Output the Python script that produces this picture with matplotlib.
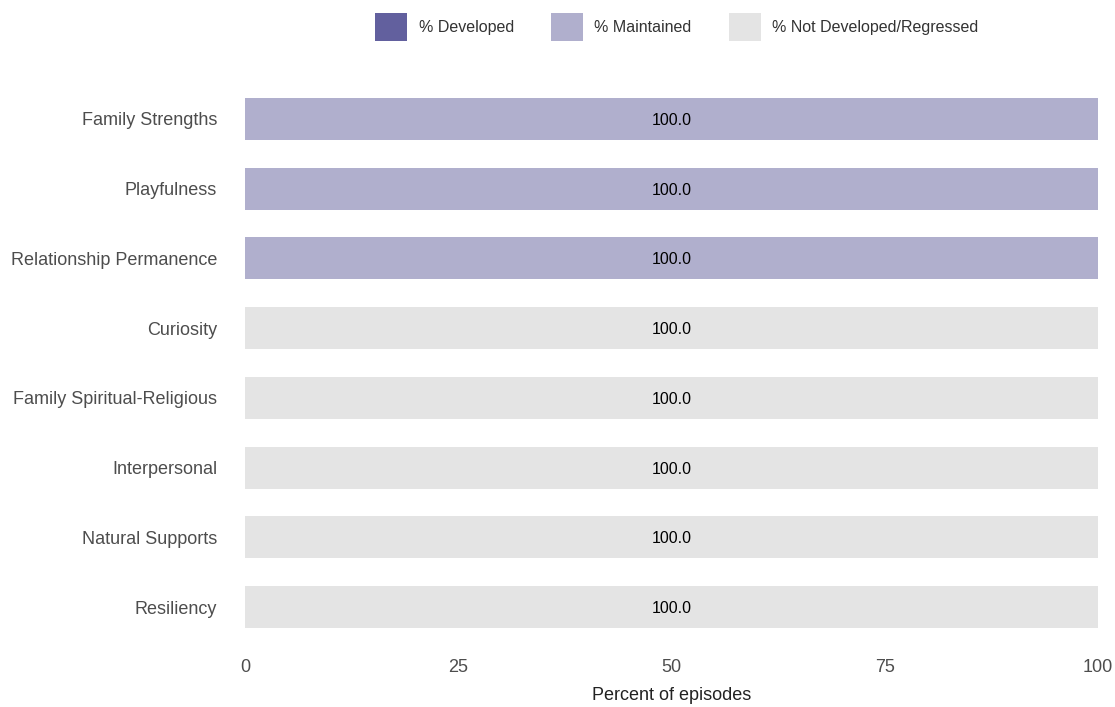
import matplotlib
matplotlib.use("Agg")
import matplotlib.pyplot as plt
import numpy as np
from matplotlib.patches import Patch

categories = [
    "Family Strengths",
    "Playfulness",
    "Relationship Permanence",
    "Curiosity",
    "Family Spiritual-Religious",
    "Interpersonal",
    "Natural Supports",
    "Resiliency",
]
pct_developed = [0, 0, 0, 0, 0, 0, 0, 0]
pct_maintained = [100, 100, 100, 0, 0, 0, 0, 0]
pct_not_developed = [0, 0, 0, 100, 100, 100, 100, 100]

series_names = ["% Developed", "% Maintained", "% Not Developed/Regressed"]
series_colors = ["#62609e", "#b0afcd", "#e4e4e4"]

plt.rcParams["font.family"] = ["Liberation Sans", "DejaVu Sans"]

fig = plt.figure(figsize=(11.15, 7.07), dpi=100)
ax = fig.add_axes([245 / 1115, 1 - 649 / 707, (1098 - 245) / 1115, (649 - 77) / 707])

y = np.arange(len(categories))[::-1]
left = np.zeros(len(categories))
for vals, name, color in zip([pct_developed, pct_maintained, pct_not_developed], series_names, series_colors):
    vals = np.array(vals, dtype=float)
    ax.barh(y, vals, left=left, height=0.6, color=color, edgecolor="none")
    for yi, l, v in zip(y, left, vals):
        if v > 0:
            ax.text(l + v / 2, yi, f"{v:.1f}", ha="center", va="center_baseline",
                    fontsize=11.5, color="black")
    left += vals

ax.set_xlim(0, 100)
ax.set_ylim(-0.6, len(categories) - 1 + 0.6)
ax.set_yticks(y)
ax.set_yticklabels(categories, fontsize=13, color="#4d4d4d")
ax.set_xticks([0, 25, 50, 75, 100])
ax.set_xticklabels(["0", "25", "50", "75", "100"], fontsize=13, color="#4d4d4d")
ax.tick_params(length=0)
ax.tick_params(axis="x", pad=7)
ax.tick_params(axis="y", pad=20)
ax.set_xlabel("Percent of episodes", fontsize=13, color="#222222", labelpad=8)
for s in ax.spines.values():
    s.set_visible(False)

handles = [Patch(facecolor=c, edgecolor="none") for c in series_colors]
fig.legend(handles, series_names, loc="center", bbox_to_anchor=(677 / 1115, 1 - 27 / 707),
           ncol=3, frameon=False, fontsize=11.5, handlelength=2.0, handleheight=2.3,
           columnspacing=2.35, handletextpad=0.7, labelcolor="#333333")

fig.savefig("out.png", dpi=100)
